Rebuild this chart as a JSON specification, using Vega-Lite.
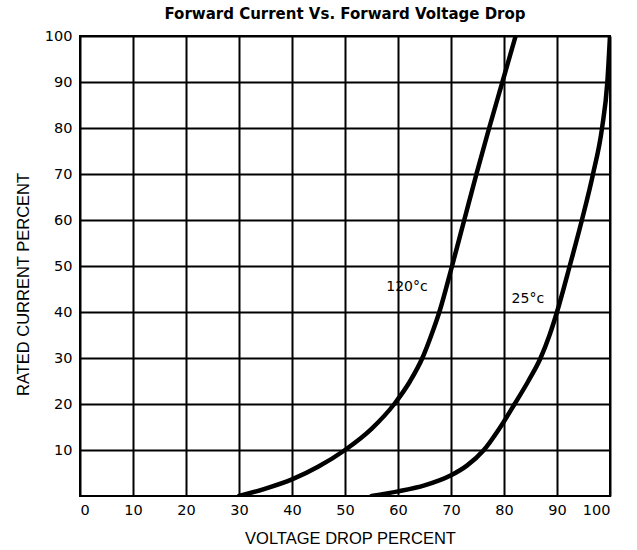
{
  "$schema": "https://vega.github.io/schema/vega-lite/v6.json",
  "width": 530,
  "height": 460,
  "autosize": {"type": "none"},
  "padding": {"left": 80, "top": 36, "right": 27, "bottom": 54},
  "background": "white",
  "title": {
    "text": "Forward Current Vs. Forward Voltage Drop",
    "font": "DejaVu Sans",
    "fontSize": 15,
    "fontWeight": "bold",
    "color": "black",
    "anchor": "middle",
    "offset": 6
  },
  "config": {
    "view": {"stroke": "black", "strokeWidth": 2},
    "axis": {
      "labelFont": "DejaVu Sans",
      "labelFontSize": 14.5,
      "labelColor": "black",
      "titleFont": "Liberation Sans",
      "titleFontSize": 16.5,
      "titleFontWeight": "normal",
      "titleColor": "black",
      "gridColor": "black",
      "gridWidth": 2,
      "gridOpacity": 1,
      "ticks": false,
      "domain": false
    }
  },
  "datasets": {
    "curves": [
      {"series": "120", "v": 30, "i": 0},
      {"series": "120", "v": 35, "i": 1.6},
      {"series": "120", "v": 40, "i": 3.6},
      {"series": "120", "v": 45, "i": 6.4},
      {"series": "120", "v": 50, "i": 10},
      {"series": "120", "v": 55, "i": 14.6},
      {"series": "120", "v": 59.3, "i": 20},
      {"series": "120", "v": 62.3, "i": 25},
      {"series": "120", "v": 64.6, "i": 30},
      {"series": "120", "v": 66.3, "i": 35},
      {"series": "120", "v": 67.8, "i": 40},
      {"series": "120", "v": 70.2, "i": 50},
      {"series": "120", "v": 72.5, "i": 60},
      {"series": "120", "v": 74.8, "i": 70},
      {"series": "120", "v": 77.2, "i": 80},
      {"series": "120", "v": 79.7, "i": 90},
      {"series": "120", "v": 82.2, "i": 100},
      {"series": "25", "v": 55, "i": 0},
      {"series": "25", "v": 60, "i": 1},
      {"series": "25", "v": 65, "i": 2.3},
      {"series": "25", "v": 70, "i": 4.5},
      {"series": "25", "v": 73, "i": 6.6},
      {"series": "25", "v": 76.2, "i": 10},
      {"series": "25", "v": 79.2, "i": 14.8},
      {"series": "25", "v": 82, "i": 20},
      {"series": "25", "v": 84.6, "i": 25},
      {"series": "25", "v": 86.9, "i": 30},
      {"series": "25", "v": 88.6, "i": 35},
      {"series": "25", "v": 90, "i": 40},
      {"series": "25", "v": 92.4, "i": 50},
      {"series": "25", "v": 94.7, "i": 60},
      {"series": "25", "v": 96.8, "i": 70},
      {"series": "25", "v": 98.5, "i": 80},
      {"series": "25", "v": 99.5, "i": 90},
      {"series": "25", "v": 100, "i": 100}
    ],
    "labels": [
      {"v": 61.7, "i": 45.5, "label": "120°c"},
      {"v": 84.5, "i": 42.8, "label": "25°c"}
    ]
  },
  "layer": [
    {
      "data": {"name": "curves"},
      "mark": {"type": "line", "interpolate": "monotone", "strokeWidth": 4.5, "strokeCap": "round", "clip": true},
      "encoding": {
        "x": {
          "field": "v", "type": "quantitative",
          "scale": {"domain": [0, 100], "nice": false},
          "axis": {"values": [0,10,20,30,40,50,60,70,80,90,100], "title": "VOLTAGE DROP PERCENT", "labelPadding": 7, "titleBaseline": "alphabetic", "titleY": 47, "titleX": 270}
        },
        "y": {
          "field": "i", "type": "quantitative",
          "scale": {"domain": [0, 100], "nice": false},
          "axis": {"values": [10,20,30,40,50,60,70,80,90,100], "title": "RATED CURRENT PERCENT", "labelPadding": 8, "titleBaseline": "alphabetic", "titleX": -52, "titleY": 248}
        },
        "detail": {"field": "series"},
        "color": {"value": "black"},
        "order": {"field": "i", "type": "quantitative"}
      }
    },
    {
      "data": {"name": "labels"},
      "mark": {"type": "text", "font": "DejaVu Sans", "fontSize": 14, "color": "black", "align": "center", "baseline": "middle"},
      "encoding": {
        "x": {"field": "v", "type": "quantitative"},
        "y": {"field": "i", "type": "quantitative"},
        "text": {"field": "label"}
      }
    }
  ]
}
